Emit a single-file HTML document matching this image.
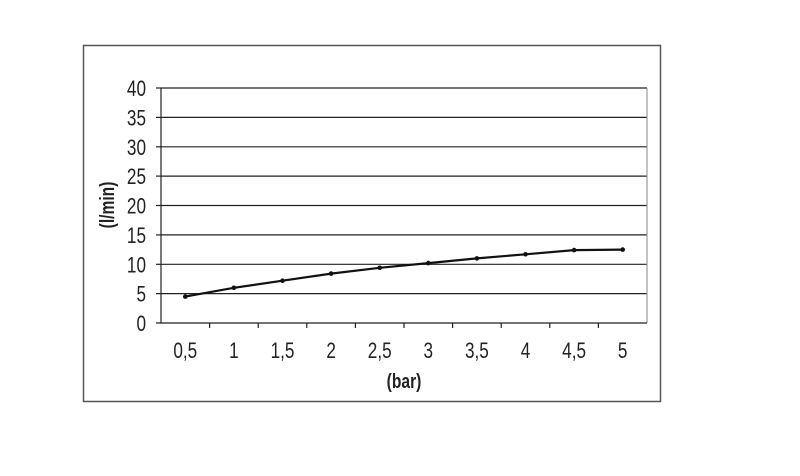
<!DOCTYPE html>
<html><head><meta charset="utf-8"><style>
html,body{margin:0;padding:0;background:#fff;}
svg{display:block;}
text{font-family:"Liberation Sans",sans-serif;fill:#222;}
</style></head><body>
<svg width="800" height="476" viewBox="0 0 800 476">
<rect x="83.5" y="45.5" width="577" height="356" fill="#fff" stroke="#555" stroke-width="1.5"/>
<g stroke="#222" stroke-width="1.2">
<line x1="161" y1="88" x2="647" y2="88"/>
<line x1="161" y1="117.4" x2="647" y2="117.4"/>
<line x1="161" y1="146.8" x2="647" y2="146.8"/>
<line x1="161" y1="176.1" x2="647" y2="176.1"/>
<line x1="161" y1="205.5" x2="647" y2="205.5"/>
<line x1="161" y1="234.9" x2="647" y2="234.9"/>
<line x1="161" y1="264.3" x2="647" y2="264.3"/>
<line x1="161" y1="293.6" x2="647" y2="293.6"/>
</g>
<line x1="647" y1="88" x2="647" y2="323" stroke="#999" stroke-width="1.2"/>
<g stroke="#222" stroke-width="1.2">
<line x1="161" y1="88" x2="161" y2="323"/>
<line x1="156" y1="323" x2="647" y2="323"/>
<line x1="156" y1="88" x2="161" y2="88"/><line x1="156" y1="117.4" x2="161" y2="117.4"/>
<line x1="156" y1="146.8" x2="161" y2="146.8"/><line x1="156" y1="176.1" x2="161" y2="176.1"/>
<line x1="156" y1="205.5" x2="161" y2="205.5"/><line x1="156" y1="234.9" x2="161" y2="234.9"/>
<line x1="156" y1="264.3" x2="161" y2="264.3"/><line x1="156" y1="293.6" x2="161" y2="293.6"/>
<line x1="209.6" y1="323" x2="209.6" y2="328"/><line x1="258.2" y1="323" x2="258.2" y2="328"/>
<line x1="306.8" y1="323" x2="306.8" y2="328"/><line x1="355.4" y1="323" x2="355.4" y2="328"/>
<line x1="404" y1="323" x2="404" y2="328"/><line x1="452.6" y1="323" x2="452.6" y2="328"/>
<line x1="501.2" y1="323" x2="501.2" y2="328"/><line x1="549.8" y1="323" x2="549.8" y2="328"/>
<line x1="598.4" y1="323" x2="598.4" y2="328"/>
</g>
<polyline fill="none" stroke="#111" stroke-width="2.2" points="185.3,296.6 233.9,287.8 282.5,280.7 331.1,273.6 379.7,267.8 428.3,263.1 476.9,258.4 525.5,254.3 574.1,250.1 622.7,249.6"/>
<g fill="#111">
<circle cx="185.3" cy="296.6" r="2.3"/><circle cx="233.9" cy="287.8" r="2.3"/><circle cx="282.5" cy="280.7" r="2.3"/><circle cx="331.1" cy="273.6" r="2.3"/><circle cx="379.7" cy="267.8" r="2.3"/><circle cx="428.3" cy="263.1" r="2.3"/><circle cx="476.9" cy="258.4" r="2.3"/><circle cx="525.5" cy="254.3" r="2.3"/><circle cx="574.1" cy="250.1" r="2.3"/><circle cx="622.7" cy="249.6" r="2.3"/>
</g>
<g font-size="22" text-anchor="end">
<text transform="translate(146,96) scale(0.78,1)">40</text>
<text transform="translate(146,125.4) scale(0.78,1)">35</text>
<text transform="translate(146,154.8) scale(0.78,1)">30</text>
<text transform="translate(146,184.1) scale(0.78,1)">25</text>
<text transform="translate(146,213.5) scale(0.78,1)">20</text>
<text transform="translate(146,242.9) scale(0.78,1)">15</text>
<text transform="translate(146,272.3) scale(0.78,1)">10</text>
<text transform="translate(146,301.6) scale(0.78,1)">5</text>
<text transform="translate(146,331) scale(0.78,1)">0</text>
</g>
<g font-size="22" text-anchor="middle">
<text transform="translate(185.3,358) scale(0.78,1)">0,5</text>
<text transform="translate(233.9,358) scale(0.78,1)">1</text>
<text transform="translate(282.5,358) scale(0.78,1)">1,5</text>
<text transform="translate(331.1,358) scale(0.78,1)">2</text>
<text transform="translate(379.7,358) scale(0.78,1)">2,5</text>
<text transform="translate(428.3,358) scale(0.78,1)">3</text>
<text transform="translate(476.9,358) scale(0.78,1)">3,5</text>
<text transform="translate(525.5,358) scale(0.78,1)">4</text>
<text transform="translate(574.1,358) scale(0.78,1)">4,5</text>
<text transform="translate(622.7,358) scale(0.78,1)">5</text>
<text font-weight="bold" font-size="20" transform="translate(404,388) scale(0.78,1)">(bar)</text>
<text font-weight="bold" font-size="20" transform="translate(114,205) rotate(-90) scale(0.78,1)">(l/min)</text>
</g>
</svg>
</body></html>
